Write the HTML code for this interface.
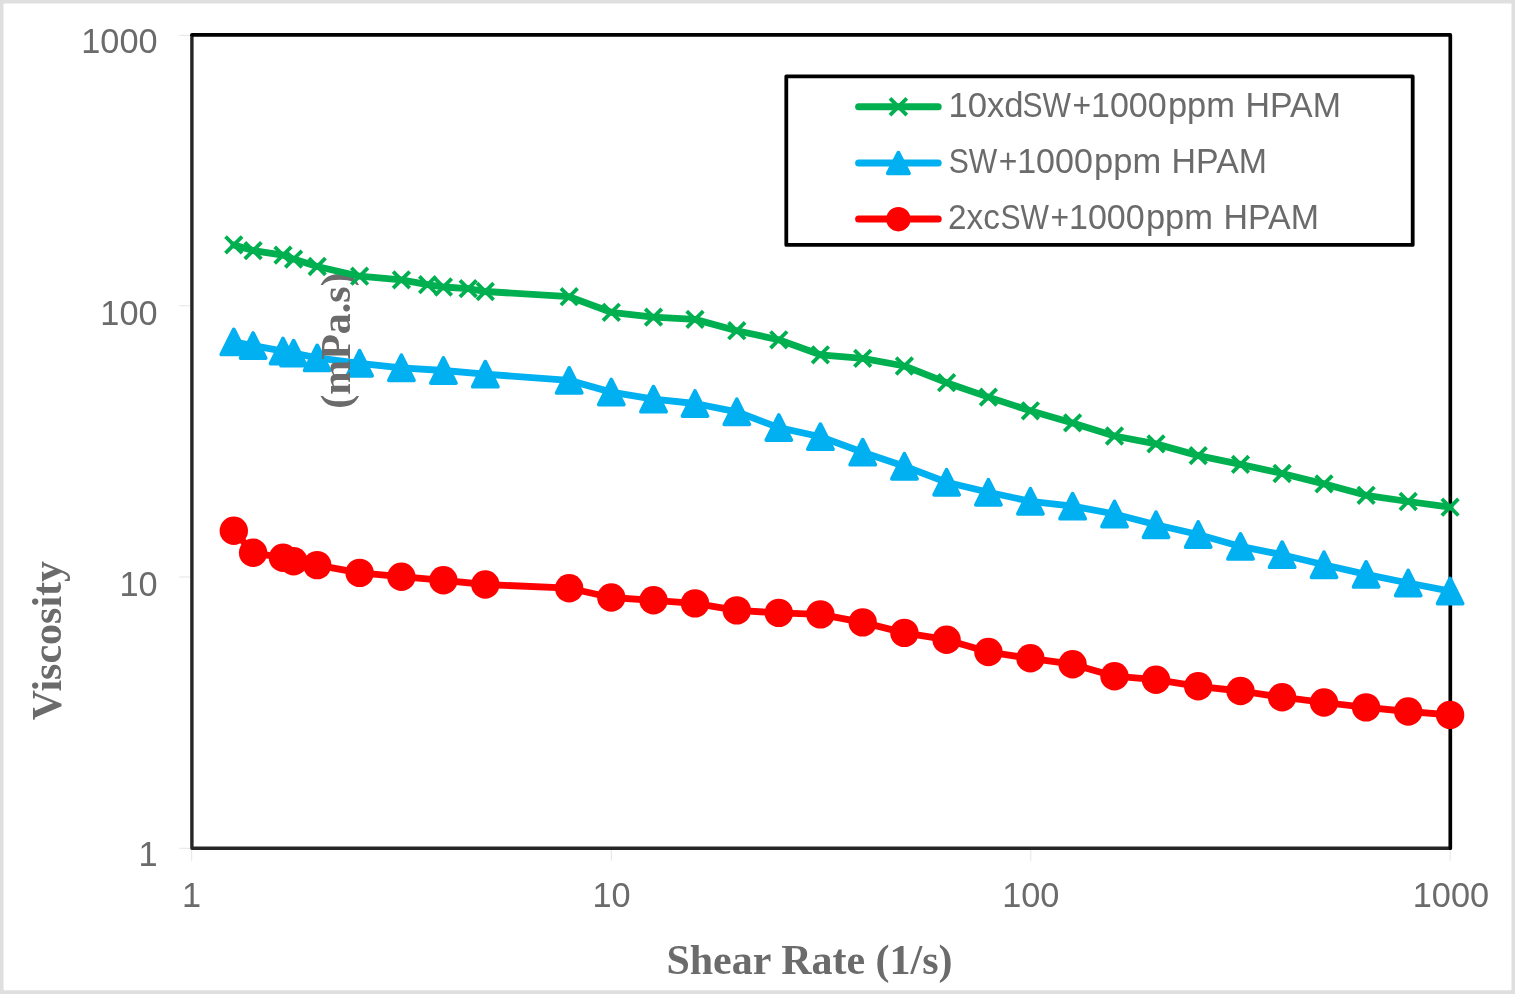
<!DOCTYPE html>
<html lang="en">
<head>
<meta charset="utf-8">
<title>Viscosity vs Shear Rate</title>
<style>
html,body{margin:0;padding:0;background:#fff;}
body{width:1515px;height:994px;overflow:hidden;}
svg{display:block;}
.tk{font-family:"Liberation Sans",sans-serif;font-size:35.6px;fill:#6b6b6b;}
.lg{font-family:"Liberation Sans",sans-serif;font-size:34.7px;fill:#6b6b6b;}
.ti{font-family:"Liberation Serif",serif;font-weight:bold;font-size:42px;fill:#6b6b6b;}
</style>
</head>
<body>
<svg width="1515" height="994" viewBox="0 0 1515 994">

<rect x="0" y="0" width="1515" height="994" fill="#dfdfdf"/>
<rect x="3.5" y="3.4" width="1508" height="986.9" rx="0.8" fill="#ffffff"/>
<path d="M179.2 35.4H190.5M179.2 305.8H190.5M179.2 577.0H190.5M179.2 848.3H190.5M191.7 849V860.8M611.3 849V860.8M1030.8 849V860.8M1450.2 849V860.8" stroke="#e2e2e2" stroke-width="0.9" fill="none"/>
<path d="M191.9 34.9V848.2H1450.3" fill="none" stroke="#262626" stroke-width="3.4" stroke-linejoin="round"/>
<path d="M191.9 36V34.9H1450.3V848.2H1449" fill="none" stroke="#000000" stroke-width="3.7" stroke-linejoin="round" stroke-linecap="butt"/>
<text class="tk" transform="translate(157.6 53.4) scale(0.964 1)" text-anchor="end">1000</text>
<text class="tk" transform="translate(157.6 324.5) scale(0.964 1)" text-anchor="end">100</text>
<text class="tk" transform="translate(157.6 595.5) scale(0.964 1)" text-anchor="end">10</text>
<text class="tk" transform="translate(157.6 866.3) scale(0.964 1)" text-anchor="end">1</text>
<text class="tk" transform="translate(191.6 906.6) scale(0.964 1)" text-anchor="middle">1</text>
<text class="tk" transform="translate(611.6 906.6) scale(0.964 1)" text-anchor="middle">10</text>
<text class="tk" transform="translate(1030.8 906.6) scale(0.964 1)" text-anchor="middle">100</text>
<text class="tk" transform="translate(1450.9 906.6) scale(0.964 1)" text-anchor="middle">1000</text>
<text class="ti" x="809.5" y="973.7" text-anchor="middle">Shear Rate (1/s)</text>
<text class="ti" transform="translate(61.2 640.6) rotate(-90)" text-anchor="middle">Viscosity</text>
<polyline fill="none" stroke="#00b0f0" stroke-width="6.8" stroke-linejoin="round" stroke-linecap="round" points="233.8,341.9 253.1,345.6 283.0,351.1 293.6,353.2 317.2,357.9 359.6,363.3 401.4,367.8 443.4,370.5 485.3,374.2 569.2,380.4 611.3,392.1 653.5,399.2 695.0,403.5 736.8,411.8 778.8,427.6 820.4,436.7 862.7,452.2 904.4,466.3 946.6,482.3 988.4,492.3 1030.4,501.3 1072.6,506.2 1114.5,514.0 1156.0,524.8 1198.2,534.5 1240.5,546.4 1282.1,554.7 1324.0,564.8 1366.1,574.4 1408.2,583.0 1450.1,591.1"/>
<path fill="#00b0f0" stroke="#00b0f0" stroke-width="3.8" stroke-linejoin="round" d="M233.8 329.4l12.5 25.0h-25.0zM253.1 333.1l12.5 25.0h-25.0zM283.0 338.6l12.5 25.0h-25.0zM293.6 340.7l12.5 25.0h-25.0zM317.2 345.4l12.5 25.0h-25.0zM359.6 350.8l12.5 25.0h-25.0zM401.4 355.3l12.5 25.0h-25.0zM443.4 358.0l12.5 25.0h-25.0zM485.3 361.7l12.5 25.0h-25.0zM569.2 367.9l12.5 25.0h-25.0zM611.3 379.6l12.5 25.0h-25.0zM653.5 386.7l12.5 25.0h-25.0zM695.0 391.0l12.5 25.0h-25.0zM736.8 399.3l12.5 25.0h-25.0zM778.8 415.1l12.5 25.0h-25.0zM820.4 424.2l12.5 25.0h-25.0zM862.7 439.7l12.5 25.0h-25.0zM904.4 453.8l12.5 25.0h-25.0zM946.6 469.8l12.5 25.0h-25.0zM988.4 479.8l12.5 25.0h-25.0zM1030.4 488.8l12.5 25.0h-25.0zM1072.6 493.7l12.5 25.0h-25.0zM1114.5 501.5l12.5 25.0h-25.0zM1156.0 512.3l12.5 25.0h-25.0zM1198.2 522.0l12.5 25.0h-25.0zM1240.5 533.9l12.5 25.0h-25.0zM1282.1 542.2l12.5 25.0h-25.0zM1324.0 552.3l12.5 25.0h-25.0zM1366.1 561.9l12.5 25.0h-25.0zM1408.2 570.5l12.5 25.0h-25.0zM1450.1 578.6l12.5 25.0h-25.0z"/>
<text class="ti" transform="translate(349.6 340.6) rotate(-90)" text-anchor="middle">(mPa.s)</text>
<polyline fill="none" stroke="#00b050" stroke-width="6.8" stroke-linejoin="round" stroke-linecap="round" points="233.8,244.9 253.1,250.6 283.0,255.1 293.6,259.1 317.2,266.5 359.6,276.2 401.4,279.9 427.6,284.7 443.4,287.0 468.2,288.6 485.3,291.5 569.2,296.7 611.3,312.3 653.5,317.1 695.0,319.4 736.8,330.7 778.8,339.8 820.4,354.8 862.7,358.4 904.4,366.0 946.6,382.7 988.4,397.1 1030.4,410.8 1072.6,422.9 1114.5,436.0 1156.0,443.9 1198.2,455.6 1240.5,464.4 1282.1,473.5 1324.0,483.9 1366.1,495.3 1408.2,501.5 1450.1,507.2"/>
<path fill="none" stroke="#00b050" stroke-width="3.8" d="M225.5 236.6l16.6 16.6M225.5 253.2l16.6 -16.6M244.8 242.3l16.6 16.6M244.8 258.9l16.6 -16.6M274.7 246.8l16.6 16.6M274.7 263.4l16.6 -16.6M285.3 250.8l16.6 16.6M285.3 267.4l16.6 -16.6M308.9 258.2l16.6 16.6M308.9 274.8l16.6 -16.6M351.3 267.9l16.6 16.6M351.3 284.5l16.6 -16.6M393.1 271.6l16.6 16.6M393.1 288.2l16.6 -16.6M419.3 276.4l16.6 16.6M419.3 293.0l16.6 -16.6M435.1 278.7l16.6 16.6M435.1 295.3l16.6 -16.6M459.9 280.3l16.6 16.6M459.9 296.9l16.6 -16.6M477.0 283.2l16.6 16.6M477.0 299.8l16.6 -16.6M560.9 288.4l16.6 16.6M560.9 305.0l16.6 -16.6M603.0 304.0l16.6 16.6M603.0 320.6l16.6 -16.6M645.2 308.8l16.6 16.6M645.2 325.4l16.6 -16.6M686.7 311.1l16.6 16.6M686.7 327.7l16.6 -16.6M728.5 322.4l16.6 16.6M728.5 339.0l16.6 -16.6M770.5 331.5l16.6 16.6M770.5 348.1l16.6 -16.6M812.1 346.5l16.6 16.6M812.1 363.1l16.6 -16.6M854.4 350.1l16.6 16.6M854.4 366.7l16.6 -16.6M896.1 357.7l16.6 16.6M896.1 374.3l16.6 -16.6M938.3 374.4l16.6 16.6M938.3 391.0l16.6 -16.6M980.1 388.8l16.6 16.6M980.1 405.4l16.6 -16.6M1022.1 402.5l16.6 16.6M1022.1 419.1l16.6 -16.6M1064.3 414.6l16.6 16.6M1064.3 431.2l16.6 -16.6M1106.2 427.7l16.6 16.6M1106.2 444.3l16.6 -16.6M1147.7 435.6l16.6 16.6M1147.7 452.2l16.6 -16.6M1189.9 447.3l16.6 16.6M1189.9 463.9l16.6 -16.6M1232.2 456.1l16.6 16.6M1232.2 472.7l16.6 -16.6M1273.8 465.2l16.6 16.6M1273.8 481.8l16.6 -16.6M1315.7 475.6l16.6 16.6M1315.7 492.2l16.6 -16.6M1357.8 487.0l16.6 16.6M1357.8 503.6l16.6 -16.6M1399.9 493.2l16.6 16.6M1399.9 509.8l16.6 -16.6M1441.8 498.9l16.6 16.6M1441.8 515.5l16.6 -16.6"/>
<polyline fill="none" stroke="#ff0000" stroke-width="6.8" stroke-linejoin="round" stroke-linecap="round" points="233.8,530.8 253.1,552.8 283.0,557.7 293.6,561.3 317.2,565.1 359.6,572.9 401.4,576.7 443.4,580.3 485.3,584.5 569.2,588.2 611.3,597.5 653.5,600.3 695.0,603.4 736.8,610.4 778.8,612.9 820.4,614.4 862.7,622.4 904.4,632.9 946.6,639.7 988.4,652.0 1030.4,658.3 1072.6,664.2 1114.5,676.2 1156.0,679.7 1198.2,686.3 1240.5,691.0 1282.1,697.2 1324.0,702.5 1366.1,707.4 1408.2,711.5 1450.1,714.9"/>
<circle cx="233.8" cy="530.8" r="14.2" fill="#ff0000"/><circle cx="253.1" cy="552.8" r="14.2" fill="#ff0000"/><circle cx="283.0" cy="557.7" r="14.2" fill="#ff0000"/><circle cx="293.6" cy="561.3" r="14.2" fill="#ff0000"/><circle cx="317.2" cy="565.1" r="14.2" fill="#ff0000"/><circle cx="359.6" cy="572.9" r="14.2" fill="#ff0000"/><circle cx="401.4" cy="576.7" r="14.2" fill="#ff0000"/><circle cx="443.4" cy="580.3" r="14.2" fill="#ff0000"/><circle cx="485.3" cy="584.5" r="14.2" fill="#ff0000"/><circle cx="569.2" cy="588.2" r="14.2" fill="#ff0000"/><circle cx="611.3" cy="597.5" r="14.2" fill="#ff0000"/><circle cx="653.5" cy="600.3" r="14.2" fill="#ff0000"/><circle cx="695.0" cy="603.4" r="14.2" fill="#ff0000"/><circle cx="736.8" cy="610.4" r="14.2" fill="#ff0000"/><circle cx="778.8" cy="612.9" r="14.2" fill="#ff0000"/><circle cx="820.4" cy="614.4" r="14.2" fill="#ff0000"/><circle cx="862.7" cy="622.4" r="14.2" fill="#ff0000"/><circle cx="904.4" cy="632.9" r="14.2" fill="#ff0000"/><circle cx="946.6" cy="639.7" r="14.2" fill="#ff0000"/><circle cx="988.4" cy="652.0" r="14.2" fill="#ff0000"/><circle cx="1030.4" cy="658.3" r="14.2" fill="#ff0000"/><circle cx="1072.6" cy="664.2" r="14.2" fill="#ff0000"/><circle cx="1114.5" cy="676.2" r="14.2" fill="#ff0000"/><circle cx="1156.0" cy="679.7" r="14.2" fill="#ff0000"/><circle cx="1198.2" cy="686.3" r="14.2" fill="#ff0000"/><circle cx="1240.5" cy="691.0" r="14.2" fill="#ff0000"/><circle cx="1282.1" cy="697.2" r="14.2" fill="#ff0000"/><circle cx="1324.0" cy="702.5" r="14.2" fill="#ff0000"/><circle cx="1366.1" cy="707.4" r="14.2" fill="#ff0000"/><circle cx="1408.2" cy="711.5" r="14.2" fill="#ff0000"/><circle cx="1450.1" cy="714.9" r="14.2" fill="#ff0000"/>
<rect x="786.3" y="76.3" width="626.4" height="168.6" fill="#ffffff" stroke="#000000" stroke-width="3.8" stroke-linejoin="round"/>
<line x1="858.6" y1="106.8" x2="938.2" y2="106.8" stroke="#00b050" stroke-width="7" stroke-linecap="round"/>
<line x1="858.6" y1="163.0" x2="938.2" y2="163.0" stroke="#00b0f0" stroke-width="7" stroke-linecap="round"/>
<line x1="858.6" y1="219.0" x2="938.2" y2="219.0" stroke="#ff0000" stroke-width="7" stroke-linecap="round"/>
<path fill="none" stroke="#00b050" stroke-width="3.8" d="M890.0 98.3l16.8 16.8M890.0 115.1l16.8 -16.8"/>
<path fill="#00b0f0" stroke="#00b0f0" stroke-width="3.8" stroke-linejoin="round" d="M898.4 152.7l10.6 20.6h-21.2z"/>
<circle cx="898.4" cy="219.2" r="12.2" fill="#ff0000"/>
<text class="lg" y="117.0"><tspan x="948.4" textLength="75.2" lengthAdjust="spacingAndGlyphs">10xd</tspan><tspan x="1022.5" textLength="48.5" lengthAdjust="spacingAndGlyphs">SW</tspan><tspan x="1072.5" textLength="18.6" lengthAdjust="spacingAndGlyphs">+</tspan><tspan x="1091.0" textLength="75.7" lengthAdjust="spacingAndGlyphs">1000</tspan><tspan x="1167.9" textLength="67.0" lengthAdjust="spacingAndGlyphs">ppm</tspan><tspan x="1236.0" textLength="104.9" lengthAdjust="spacingAndGlyphs"> HPAM</tspan></text>
<text class="lg" y="173.1"><tspan x="948.7" textLength="48.5" lengthAdjust="spacingAndGlyphs">SW</tspan><tspan x="998.7" textLength="18.6" lengthAdjust="spacingAndGlyphs">+</tspan><tspan x="1017.2" textLength="75.7" lengthAdjust="spacingAndGlyphs">1000</tspan><tspan x="1094.1" textLength="67.0" lengthAdjust="spacingAndGlyphs">ppm</tspan><tspan x="1162.2" textLength="104.9" lengthAdjust="spacingAndGlyphs"> HPAM</tspan></text>
<text class="lg" y="229.2"><tspan x="948.1" textLength="51.8" lengthAdjust="spacingAndGlyphs">2xc</tspan><tspan x="1000.5" textLength="48.5" lengthAdjust="spacingAndGlyphs">SW</tspan><tspan x="1050.5" textLength="18.6" lengthAdjust="spacingAndGlyphs">+</tspan><tspan x="1069.0" textLength="75.7" lengthAdjust="spacingAndGlyphs">1000</tspan><tspan x="1145.9" textLength="67.0" lengthAdjust="spacingAndGlyphs">ppm</tspan><tspan x="1214.0" textLength="104.9" lengthAdjust="spacingAndGlyphs"> HPAM</tspan></text>
</svg>
</body>
</html>
